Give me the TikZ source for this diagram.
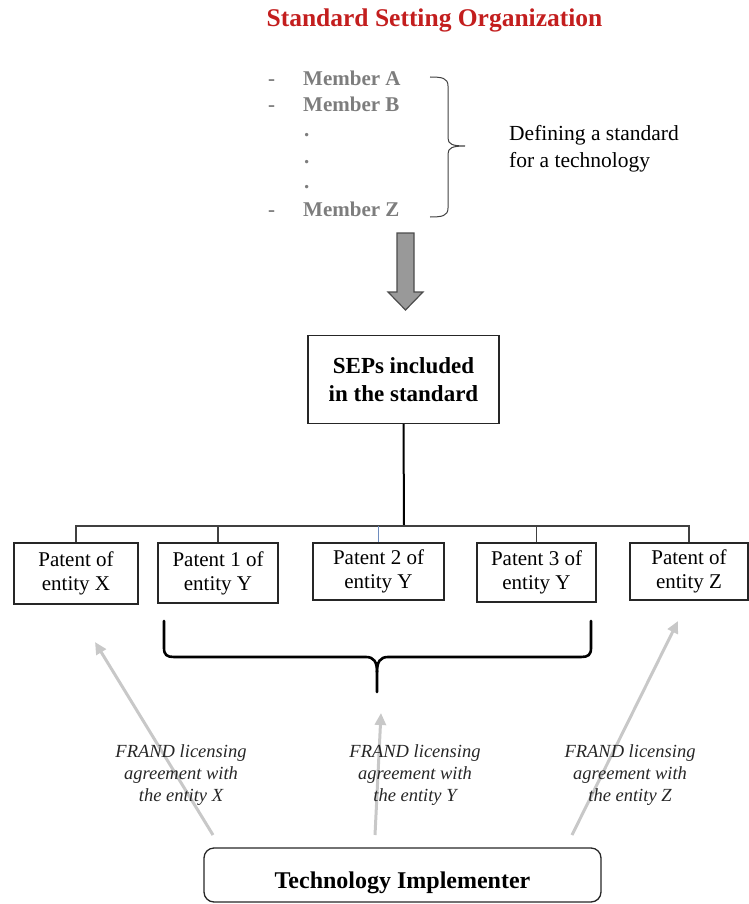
\documentclass[tikz,border=0pt]{standalone}
\usepackage{fontspec}
\setmainfont{Liberation Serif}
\usetikzlibrary{arrows.meta}
\definecolor{titlered}{RGB}{195,30,30}
\definecolor{memgray}{RGB}{125,125,125}
\definecolor{licgray}{RGB}{200,200,200}
\definecolor{stubblue}{RGB}{110,140,190}
\begin{document}
\begin{tikzpicture}[x=1pt,y=-1pt,
  patbox/.style={draw=black!85, line width=1.3pt, inner sep=0pt, align=center,
    font=\fontsize{21}{24}\selectfont},
  member/.style={anchor=base west, inner sep=0pt, text=memgray,
    font=\fontsize{21}{25}\selectfont\bfseries},
  lic/.style={align=center, inner sep=0pt, text=black!85,
    font=\fontsize{18.5}{22}\selectfont\itshape},
  licarrow/.style={draw=licgray, line width=3pt, -{Triangle[length=12pt,width=11pt]}},
  busline/.style={draw=black!75, line width=1.4pt}
]
\useasboundingbox (0,0) rectangle (748,904);

% title
\node[text=titlered, font=\fontsize{25.5}{30}\selectfont\bfseries, inner sep=0pt] (title) at (434.5,20) {Standard Setting Organization};

% members
\node[member] (dA) at (268,86) {-};
\node[member] (mA) at (303,86) {Member A};
\node[member] (dB) at (268,112) {-};
\node[member] (mB) at (303,112) {Member B};
\node[member] (d1) at (304,137) {.};
\node[member] (d2) at (304,164) {.};
\node[member] (d3) at (304,189) {.};
\node[member] (dZ) at (268,216) {-};
\node[member] (mZ) at (303,216) {Member Z};

% brace
\draw[line width=1pt, black!75] (430,77) .. controls (442,77) and (448,78) .. (448,86) -- (448,138)
  .. controls (448,144) and (452,146) .. (465,146)
  .. controls (452,146) and (448,148) .. (448,154) -- (448,208)
  .. controls (448,216) and (442,217) .. (430,217);

\node[align=left, inner sep=0pt, anchor=west, font=\fontsize{21.5}{26.5}\selectfont] (def) at (509,149) {Defining a standard\\for a technology};

% block arrow
\draw[fill=black!40, draw=black!70, line width=1.2pt] (397,233) -- (414,233) -- (414,292) -- (423,292) -- (405.5,310) -- (388,292) -- (397,292) -- cycle;

% SEPs box
\node[draw=black!85, line width=1.3pt, inner sep=0pt, align=center, minimum width=191pt, minimum height=88pt,
  font=\fontsize{23}{28}\selectfont\bfseries] (sep) at (403.5,379.5) {SEPs included\\in the standard};

% patent boxes
\node[patbox, minimum width=124pt, minimum height=61pt] (px) at (76,573.5) {Patent of\\entity X};
\node[patbox, minimum width=120pt, minimum height=60pt] (py1) at (218,573) {Patent 1 of\\entity Y};
\node[patbox, minimum width=131pt, minimum height=57pt] (py2) at (378.5,571.5) {Patent 2 of\\entity Y};
\node[patbox, minimum width=119pt, minimum height=59pt] (py3) at (536.5,572.5) {Patent 3 of\\entity Y};
\node[patbox, minimum width=118pt, minimum height=57pt] (pz) at (689,571.5) {Patent of\\entity Z};

% tree connectors
\coordinate (bus) at (404,526);
\draw[line width=2pt, black] (sep.south) -- (bus);
\draw[busline] (px.north) -- (px.north |- bus) -- (pz.north |- bus) -- (pz.north);
\draw[busline] (py1.north) -- (py1.north |- bus);
\draw[busline, draw=stubblue] (py2.north) -- (py2.north |- bus);
\draw[busline] (py3.north) -- (py3.north |- bus);

% big brace
\draw[line width=2.6pt, line join=round, line cap=round] (164,621) -- (164,648)
  .. controls (164,655) and (167,657) .. (174,657) -- (366,657)
  .. controls (374,657) and (377,662) .. (377,672) -- (377,692);
\draw[line width=2.6pt, line join=round, line cap=round] (591,621) -- (591,648)
  .. controls (591,655) and (588,657) .. (581,657) -- (388,657)
  .. controls (380,657) and (377,662) .. (377,672);

% technology implementer
\node[draw=black!85, line width=1.3pt, rounded corners=10pt, minimum width=397pt, minimum height=54pt,
  font=\fontsize{24}{28}\selectfont\bfseries, inner sep=0pt, text height=31pt, text depth=5pt] (tech) at (402.5,875) {Technology Implementer};

% licensing arrows
\coordinate (tX) at (213,835); \coordinate (hX) at (95,642);
\coordinate (tY) at (375,835); \coordinate (hY) at (381,713);
\coordinate (tZ) at (572,835); \coordinate (hZ) at (678,621);
\draw[licarrow] (tX) -- (hX);
\draw[licarrow] (tY) -- (hY);
\draw[licarrow] (tZ) -- (hZ);

\node[lic] (lX) at (181,775) {FRAND licensing\\agreement with\\the entity X};
\node[lic] (lY) at (415,775) {FRAND licensing\\agreement with\\the entity Y};
\node[lic] (lZ) at (630,775) {FRAND licensing\\agreement with\\the entity Z};
\end{tikzpicture}
\end{document}
